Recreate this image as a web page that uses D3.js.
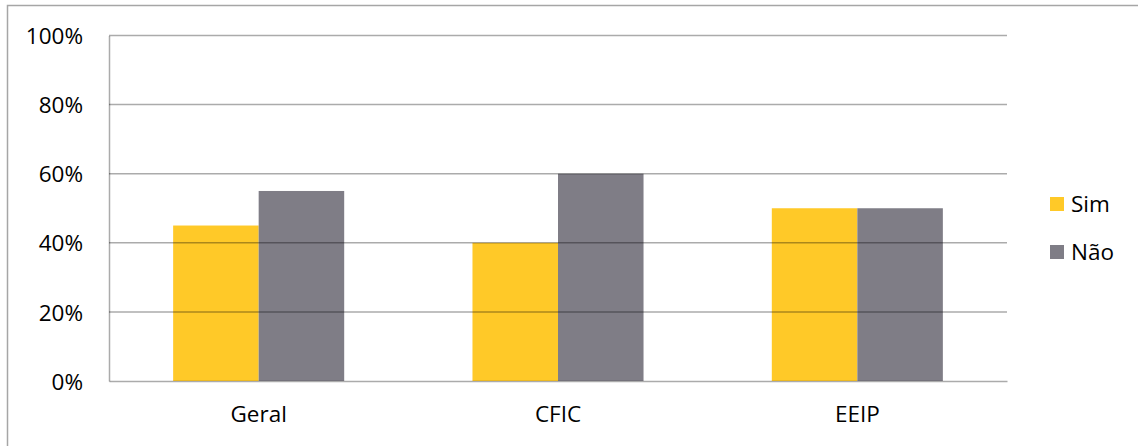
<!DOCTYPE html>
<html>
<head>
<meta charset="utf-8">
<script src="https://cdn.jsdelivr.net/npm/d3@7"></script>
<style>
  body { margin: 0; background: #fff; }
  svg text { font-family: "Open Sans", sans-serif; fill: #000; }
</style>
</head>
<body>
<svg id="chart" width="1138" height="446"></svg>
<script>
const categories = ['Geral', 'CFIC', 'EEIP'];
const seriesNames = ['Sim', 'Não'];
const simValues = [0.45, 0.40, 0.50];
const naoValues = [0.55, 0.60, 0.50];
const yTicks = [0, 0.2, 0.4, 0.6, 0.8, 1];
const colors = ['#FFC928', '#7F7D86'];

const svg = d3.select('#chart');
const plot = { left: 109, right: 1007, top: 35.5, bottom: 381 };
const fontSize = '22.5px';

// outer chart border
svg.append('rect').attr('x', 7.5).attr('y', 5.5).attr('width', 1140).attr('height', 450)
  .attr('fill', 'none').attr('stroke', '#a6a6a6').attr('stroke-width', 1.5);

const x0 = d3.scaleBand().domain(categories).range([plot.left, plot.right]).padding(0);
const x1 = d3.scaleBand().domain(seriesNames).range([0, x0.bandwidth()]).paddingInner(0).paddingOuter(0.75);
const y = d3.scaleLinear().domain([0, 1]).range([plot.bottom, plot.top]);
const color = d3.scaleOrdinal().domain(seriesNames).range(colors);

const rows = categories.map((c, i) => ({ cat: c, vals: [
  { key: 'Sim', v: simValues[i] }, { key: 'Não', v: naoValues[i] }
] }));

svg.append('g').selectAll('g').data(rows).enter().append('g')
  .attr('transform', d => `translate(${x0(d.cat)},0)`)
  .selectAll('rect').data(d => d.vals).enter().append('rect')
  .attr('x', d => x1(d.key)).attr('width', x1.bandwidth())
  .attr('y', d => y(d.v)).attr('height', d => y(0) - y(d.v))
  .attr('fill', d => color(d.key));

// gridlines (drawn over bars, translucent like the original)
svg.append('g').selectAll('line').data(yTicks.filter(t => t > 0)).enter().append('line')
  .attr('x1', plot.left).attr('x2', plot.right)
  .attr('y1', d => y(d)).attr('y2', d => y(d))
  .attr('stroke', '#000').attr('stroke-opacity', 0.33).attr('stroke-width', 1.5);

// y axis
const yAxis = svg.append('g').attr('transform', `translate(${plot.left},0)`)
  .call(d3.axisLeft(y).tickValues(yTicks).tickFormat(d3.format('.0%')).tickSize(0).tickPadding(26));
yAxis.select('.domain').attr('stroke', '#000').attr('stroke-opacity', 0.33).attr('stroke-width', 1.5);
yAxis.selectAll('text').style('font-size', fontSize).attr('dy', '0.36em');

// x axis
const xAxis = svg.append('g').attr('transform', `translate(0,${plot.bottom})`)
  .call(d3.axisBottom(x0).tickSize(0).tickPadding(25));
xAxis.select('.domain').attr('stroke', '#000').attr('stroke-opacity', 0.33).attr('stroke-width', 1.5);
xAxis.selectAll('text').style('font-size', fontSize);

// legend
const legend = svg.append('g').selectAll('g').data(seriesNames).enter().append('g')
  .attr('transform', (d, i) => `translate(1050,${197 + i * 48})`);
legend.append('rect').attr('width', 14).attr('height', 14).attr('fill', d => color(d));
legend.append('text').attr('x', 21).attr('y', 7).attr('dy', '0.36em')
  .style('font-size', fontSize).text(d => d);
</script>
</body>
</html>
